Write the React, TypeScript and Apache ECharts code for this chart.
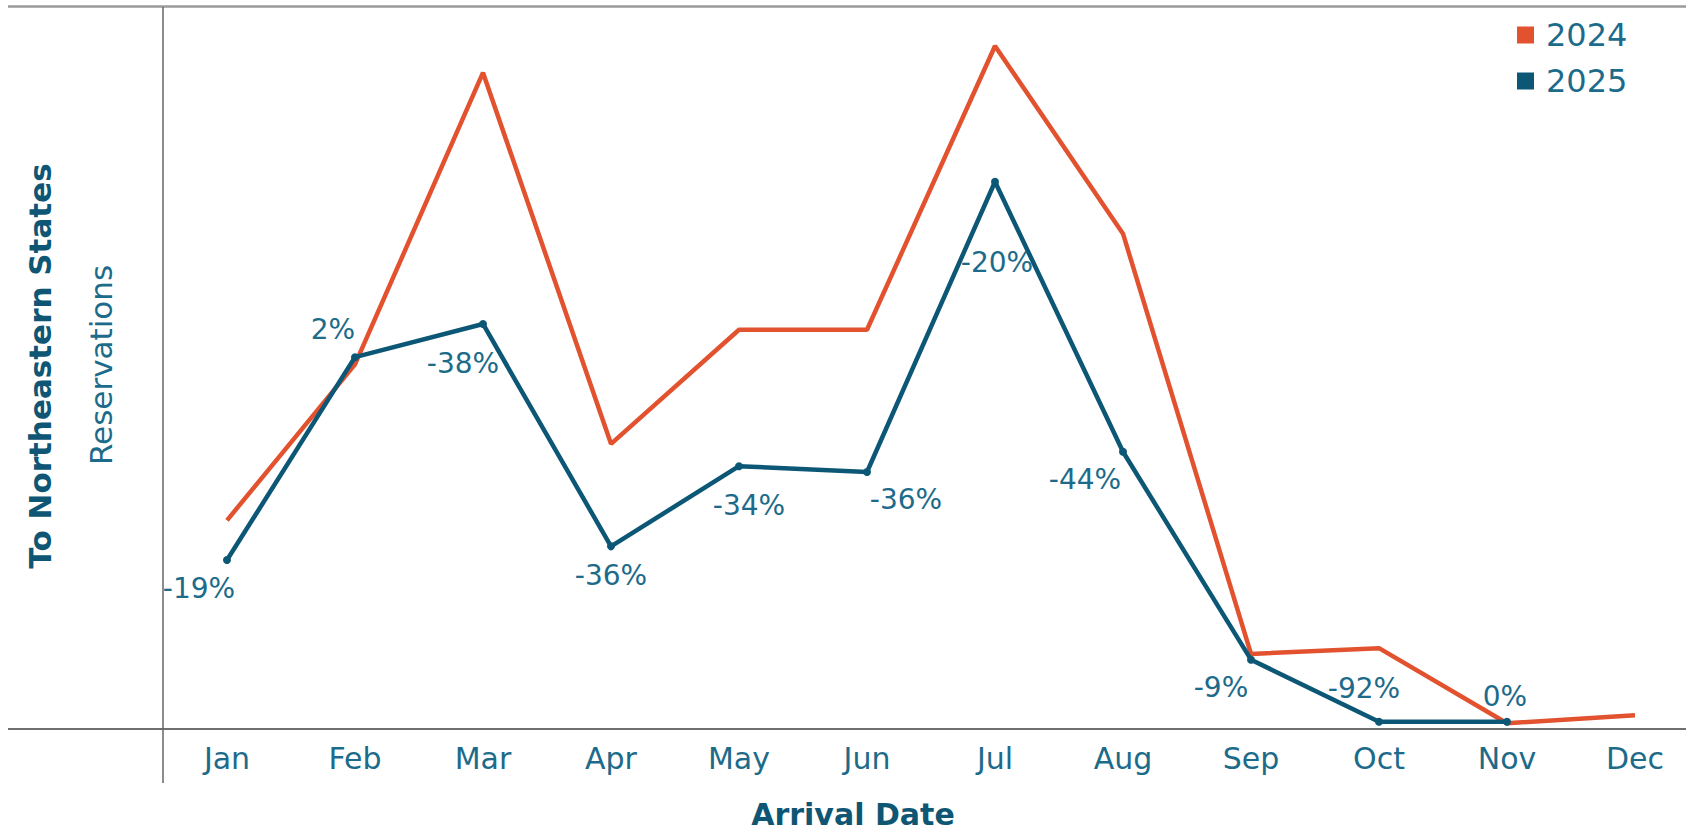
import React, { useEffect, useRef } from "react";
import * as echarts from "echarts";

const months = ["Jan", "Feb", "Mar", "Apr", "May", "Jun", "Jul", "Aug", "Sep", "Oct", "Nov", "Dec"];
const reservations2024 = [289, 505, 909, 395, 553, 553, 946, 686, 104, 112, 8, 19];
const reservations2025: (number | null)[] = [234, 515, 561, 253, 364, 356, 758, 384, 96, 10, 10, null];
const changeLabels = ["-19%", "2%", "-38%", "-36%", "-34%", "-36%", "-20%", "-44%", "-9%", "-92%", "0%", ""];

// label placement (px offsets from point) – styling only
const labelOffsets: [number, number][] = [
  [-28, 28], [-22, -28], [-20, 40], [0, 29], [10, 39], [39, 28],
  [2, 81], [-38, 28], [-30, 28], [-15, -33], [-2, -25], [0, 0],
];

const RED = "#E2522F";
const BLUE = "#0C5775";
const TEXT = "#1D6B8A";
const TITLE = "#0E5674";
const FONT = "DejaVu Sans";

export default function App() {
  const ref = useRef<HTMLDivElement>(null);
  useEffect(() => {
    if (!ref.current) return;
    const chart = echarts.init(ref.current, null, { renderer: "svg" });
    chart.setOption({
      animation: false,
      textStyle: { fontFamily: FONT },
      grid: { left: 163, right: 1, top: 7, bottom: 103, containLabel: false },
      legend: {
        orient: "vertical",
        left: 1512,
        top: 14,
        itemWidth: 17,
        itemHeight: 17,
        itemGap: 14,
        icon: "rect",
        textStyle: { color: TEXT, fontSize: 32, fontFamily: FONT, padding: [0, 0, 0, 7] },
        data: ["2024", "2025"],
      },
      xAxis: {
        type: "category",
        data: months,
        boundaryGap: true,
        axisLine: { show: false },
        axisTick: { show: false },
        axisLabel: { color: TEXT, fontSize: 30, fontFamily: FONT, margin: 14 },
        splitLine: { show: false },
      },
      yAxis: {
        type: "value",
        min: 0,
        max: 1000,
        show: false,
        splitLine: { show: false },
      },
      graphic: [
        { type: "line", shape: { x1: 8, y1: 6.5, x2: 1700, y2: 6.5 }, style: { stroke: "#9a9a9a", lineWidth: 2.5 }, z: 10 },
        { type: "line", shape: { x1: 163, y1: 7, x2: 163, y2: 783 }, style: { stroke: "#666", lineWidth: 1.5 }, z: 10 },
        { type: "line", shape: { x1: 8, y1: 729, x2: 1700, y2: 729 }, style: { stroke: "#6f6f6f", lineWidth: 2 }, z: 1 },
        {
          type: "text", x: 40, y: 366, rotation: Math.PI / 2,
          style: { text: "To Northeastern States", fill: TITLE, font: `bold 31px "${FONT}"`, align: "center", verticalAlign: "middle" },
        },
        {
          type: "text", x: 101, y: 365, rotation: Math.PI / 2,
          style: { text: "Reservations", fill: TEXT, font: `31px "${FONT}"`, align: "center", verticalAlign: "middle" },
        },
        {
          type: "text", x: 853, y: 814,
          style: { text: "Arrival Date", fill: TITLE, font: `bold 30px "${FONT}"`, align: "center", verticalAlign: "middle" },
        },
      ],
      series: [
        {
          name: "2024",
          type: "line",
          data: reservations2024,
          symbol: "none",
          lineStyle: { color: RED, width: 4.5 },
          itemStyle: { color: RED },
          z: 2,
        },
        {
          name: "2025",
          type: "line",
          data: reservations2025.map((v, i) => ({
            value: v,
            label: { offset: labelOffsets[i] },
          })),
          symbol: "circle",
          symbolSize: 8,
          showSymbol: true,
          connectNulls: false,
          lineStyle: { color: BLUE, width: 4.5 },
          itemStyle: { color: BLUE },
          label: {
            show: true,
            position: "inside",
            align: "center",
            verticalAlign: "middle",
            color: TEXT,
            fontSize: 28,
            fontFamily: FONT,
            formatter: (p: any) => changeLabels[p.dataIndex],
          },
          z: 3,
        },
      ],
    });
    return () => chart.dispose();
  }, []);
  return (
    <div style={{ position: "absolute", left: 0, top: 0, width: 1686, height: 832, overflow: "hidden" }}>
      <div ref={ref} style={{ position: "absolute", left: 0, top: 0, width: 1700, height: 832 }} />
    </div>
  );
}
